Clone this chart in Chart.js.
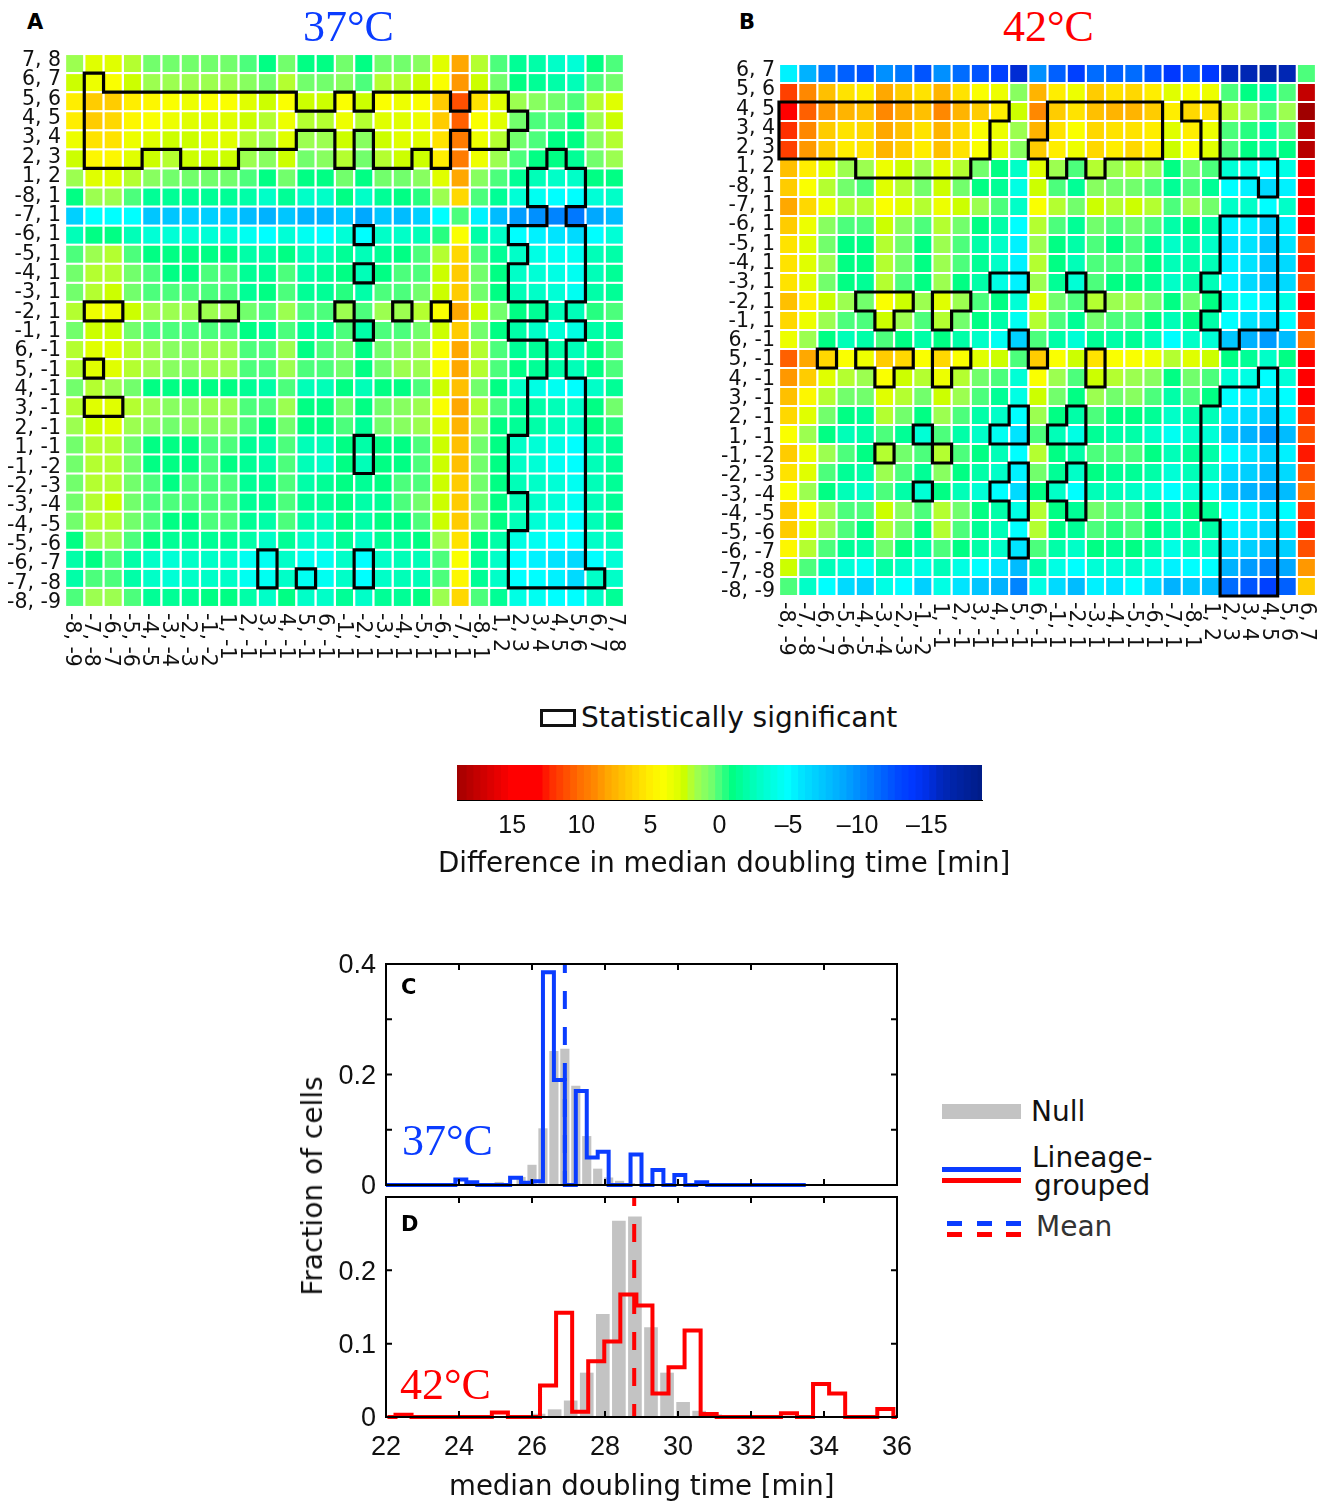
<!DOCTYPE html>
<html>
<head>
<meta charset="utf-8">
<script src="https://cdn.jsdelivr.net/npm/chart.js@4"></script>
<style>
    html, body { margin: 0; padding: 0; background: #fff; }
    #page { position: relative; width: 1329px; height: 1502px; overflow: hidden; font-family: "DejaVu Sans", sans-serif; color: #111; }
    canvas { position: absolute; }
    .t { position: absolute; white-space: nowrap; line-height: 1; transform: translateY(-50%); }
    .serif { font-family: "Liberation Serif", serif; font-size: 44px; }
    .panel { font-family: "DejaVu Sans", sans-serif; font-weight: bold; font-size: 21px; color: #000; }
    .lg { font-size: 28px; }
    .sw { position: absolute; }
</style>
</head>
<body>
<div id="page">
    <canvas id="heatA" width="634" height="633" style="left:0;top:44px"></canvas>
    <canvas id="heatB" width="612" height="612" style="left:714px;top:54px"></canvas>
    <canvas id="cbar" width="545" height="85" style="left:447px;top:765px"></canvas>
    <canvas id="histC" width="630" height="250" style="left:300px;top:950px"></canvas>
    <canvas id="histD" width="630" height="282" style="left:300px;top:1185px"></canvas>

    <div class="t panel" style="left:27px;top:22px">A</div>
    <div class="t panel" style="left:739px;top:22px">B</div>
    <div class="t serif" style="left:303px;top:27px;color:#0a3cff">37°C</div>
    <div class="t serif" style="left:1003px;top:27px;color:#ff0000">42°C</div>

    <div class="sw" style="left:540px;top:709px;width:30px;height:12px;border:3px solid #111"></div>
    <div class="t" style="left:581px;top:718px;font-size:28px">Statistically significant</div>
    <div class="t" style="left:438px;top:863px;font-size:27.7px">Difference in median doubling time [min]</div>

    <div class="t panel" style="left:401px;top:987px">C</div>
    <div class="t panel" style="left:401px;top:1224px">D</div>
    <div class="t serif" style="left:402px;top:1141px;color:#0a3cff">37°C</div>
    <div class="t serif" style="left:400px;top:1385px;color:#ff0000">42°C</div>
    <div class="t" style="left:313px;top:1186px;font-size:28px;transform:translate(-50%,-50%) rotate(-90deg)">Fraction of cells</div>
    <div class="t" style="left:449px;top:1486px;font-size:27.6px">median doubling time [min]</div>

    <div class="sw" style="left:942px;top:1104px;width:79px;height:15px;background:#c3c3c3"></div>
    <div class="t lg" style="left:1031px;top:1112px">Null</div>
    <div class="sw" style="left:942px;top:1167px;width:79px;height:5px;background:#0a3cff"></div>
    <div class="sw" style="left:942px;top:1178px;width:79px;height:5px;background:#ff0000"></div>
    <div class="t lg" style="left:1032px;top:1158px">Lineage-</div>
    <div class="t lg" style="left:1034px;top:1186px">grouped</div>
    <div class="sw" style="left:947px;top:1221px;width:15px;height:5px;background:#0a3cff"></div>
    <div class="sw" style="left:977px;top:1221px;width:15px;height:5px;background:#0a3cff"></div>
    <div class="sw" style="left:1006px;top:1221px;width:15px;height:5px;background:#0a3cff"></div>
    <div class="sw" style="left:947px;top:1232px;width:15px;height:5px;background:#ff0000"></div>
    <div class="sw" style="left:977px;top:1232px;width:15px;height:5px;background:#ff0000"></div>
    <div class="sw" style="left:1006px;top:1232px;width:15px;height:5px;background:#ff0000"></div>
    <div class="t lg" style="left:1036px;top:1227px;color:#333">Mean</div>
</div>

<script>
// Row/column labels, panel A reads top-down, its columns are the same list reversed
const rowLabelsA = ['7, 8','6, 7','5, 6','4, 5','3, 4','2, 3','1, 2','-8, 1','-7, 1','-6, 1','-5, 1','-4, 1','-3, 1','-2, 1','-1, 1','6, -1','5, -1','4, -1','3, -1','2, -1','1, -1','-1, -2','-2, -3','-3, -4','-4, -5','-5, -6','-6, -7','-7, -8','-8, -9'];
const colLabelsA = ['-8, -9','-7, -8','-6, -7','-5, -6','-4, -5','-3, -4','-2, -3','-1, -2','1, -1','2, -1','3, -1','4, -1','5, -1','6, -1','-1, 1','-2, 1','-3, 1','-4, 1','-5, 1','-6, 1','-7, 1','-8, 1','1, 2','2, 3','3, 4','4, 5','5, 6','6, 7','7, 8'];
const rowLabelsB = ['6, 7','5, 6','4, 5','3, 4','2, 3','1, 2','-8, 1','-7, 1','-6, 1','-5, 1','-4, 1','-3, 1','-2, 1','-1, 1','6, -1','5, -1','4, -1','3, -1','2, -1','1, -1','-1, -2','-2, -3','-3, -4','-4, -5','-5, -6','-6, -7','-7, -8','-8, -9'];
const colLabelsB = ['-8, -9','-7, -8','-6, -7','-5, -6','-4, -5','-3, -4','-2, -3','-1, -2','1, -1','2, -1','3, -1','4, -1','5, -1','6, -1','-1, 1','-2, 1','-3, 1','-4, 1','-5, 1','-6, 1','-7, 1','-8, 1','1, 2','2, 3','3, 4','4, 5','5, 6','6, 7'];

// Difference in median doubling time [min]
const cellsA = [
    [1.5,3,3,2,.5,.5,.5,.5,.5,0,-1,.5,-1,-1,.5,-1,.5,.5,1,3,8,2,0,-1.5,-2,-3,-3.5,-1,0],
    [2.5,3.5,4,2.5,1.5,1.5,1.5,1.5,1.5,1,.5,2,.5,.5,1,0,2,2,2.5,4,8.5,2.5,.5,-1,-1.5,-2,-2.5,0,.5],
    [5,6.5,6.5,5,4.5,4,3.5,4,4,3,2.5,4,2.5,2.5,4,2.5,4,3.5,4,6.5,11,5.5,3,1.5,1,.5,0,2,3],
    [5,6.5,6,4.5,4,3.5,3,3,3,2.5,2,3.5,2,2,3.5,2,3,3,3.5,6.5,10.5,4,3,.5,0,0,-1,1.5,2.5],
    [3.5,5.5,5.5,3.5,3,2.5,2.5,3,3,2,1.5,3,1.5,1.5,2.5,1,2.5,3,3,5.5,9.5,3.5,2,.5,0,-1,-1,1,2],
    [2.5,4.5,4.5,3,2.5,2,2.5,2.5,2.5,1.5,1,2.5,.5,1,2,.5,2,2.5,2.5,5,9.5,3.5,1.5,0,-1,-1,-1.5,.5,1.5],
    [1.5,3,3,2,1,.5,.5,.5,.5,0,-1,.5,-1,-1,.5,-1,.5,.5,1,3,8,1,0,-1.5,-2.5,-3,-3,-1,-1],
    [-1,1.5,1.5,0,-1.5,-1.5,-1.5,-1.5,-1.5,-2,-3,-1.5,-3,-3,-1,-3,-1.5,-1,-.5,1.5,6,0,-1.5,-3.5,-4.5,-5,-5,-3.5,-3],
    [-7,-5,-5,-5,-7.5,-7.5,-7,-7,-7,-8,-8.5,-7.5,-8.5,-8.5,-7.5,-9,-7.5,-8,-7,-5,0,-5.5,-8,-9.5,-10,-10.5,-11,-9,-8],
    [-2.5,-1,-1,-2.5,-3.5,-3.5,-3.5,-3.5,-3.5,-4.5,-5,-3.5,-4.5,-5,-3.5,-5,-3,-3,-2.5,-.5,4,-2,-3,-5,-5.5,-6,-6.5,-5,-3.5],
    [0,1.5,2,0,-1,-1,-1,-1,-1,-2,-2,-1,-2.5,-2.5,-1.5,-2.5,-1.5,-1,0,2,6,0,-1.5,-3,-4,-4.5,-4.5,-2.5,-2],
    [.5,2,2,.5,0,-1,-1,0,0,-1.5,-1.5,0,-2,-1.5,-1,-2.5,-1,0,0,2.5,6.5,.5,-1,-3,-3.5,-4,-4.5,-2.5,-1.5],
    [.5,2,2.5,.5,0,0,0,0,0,-1.5,-1,0,-1.5,-1.5,-.5,-2,0,0,.5,2.5,6.5,.5,-1,-2.5,-3,-3.5,-4.5,-2,-1.5],
    [2,3.5,3.5,2.5,1.5,1.5,1.5,1.5,1.5,.5,0,1.5,0,0,1.5,0,1.5,1.5,2,4,8,2.5,.5,-1,-1.5,-2.5,-2.5,-.5,0],
    [.5,2.5,2.5,.5,0,0,0,0,0,-1,-1.5,0,-1.5,-1.5,0,-2,0,0,.5,2.5,6.5,.5,-1,-2,-3,-3.5,-4,-2,-1.5],
    [2,3,3,2,1.5,1,1,1.5,1.5,0,0,1.5,-1,0,.5,-1,.5,1,1.5,4,8,2,0,-1.5,-1.5,-2,-2.5,-1,0],
    [2,3,3,2,1.5,1,1,1.5,1.5,0,0,1.5,0,0,.5,-1,.5,1.5,1.5,4,8,2,0,-1,-1.5,-2,-2.5,-1,0],
    [.5,2,1.5,.5,-1,-1,-1,-1,-1,-1.5,-2,0,-2.5,-2.5,-1,-2.5,-1,-1,0,2.5,7,.5,-1,-3,-4,-4.5,-5,-3,-1.5],
    [2,3,3,2,1.5,1,1,1.5,1.5,0,0,1.5,-1,-1,.5,-1,.5,1,1.5,4,8,2,0,-1.5,-2,-2.5,-3,-1,.5],
    [1.5,2.5,3,1.5,1,.5,1,1,1,0,-1,.5,-1,-1,0,-1.5,.5,1,1.5,3,7.5,1.5,-1,-1.5,-2,-2.5,-3,-1,-.5],
    [.5,2,2,.5,-1,-1,-1,0,0,-1.5,-2,0,-2.5,-2.5,-1,-2,-1,-1,0,2.5,7,.5,-1,-3,-3.5,-4,-5,-2.5,-1.5],
    [.5,2,2,.5,-1,-1,-1,0,-1,-1.5,-2,0,-2.5,-3,-1,-2.5,-1,-1,0,2.5,7,.5,-1,-3,-3.5,-4.5,-5,-2.5,-1.5],
    [.5,2,2,.5,0,-1,0,0,0,-1.5,-1.5,0,-2,-1.5,-1,-1.5,-1,0,0,2.5,6.5,.5,-1,-2.5,-3,-3.5,-4.5,-2.5,-1.5],
    [.5,2,2.5,.5,0,0,0,0,0,-1.5,-1.5,0,-1.5,-1.5,-1,-2,-1.5,0,.5,2.5,6.5,.5,-1,-2.5,-3,-3.5,-4.5,-2.5,-1.5],
    [.5,2,2,.5,0,-1,-1,0,0,-1.5,-2,0,-2,-2.5,-1,-2,-1,-1,0,2.5,6.5,.5,-1,-2.5,-3.5,-4,-5,-2.5,-1],
    [-1,1.5,1.5,0,-1,-1.5,-1.5,-1.5,-1.5,-2,-3,-1.5,-3,-3,-1.5,-3,-1.5,-1.5,-1,1.5,5.5,-1,-2,-4,-4.5,-5,-5,-3,-2.5],
    [-2,-1,0,-2,-3,-3.5,-3,-3,-3,-4.5,-4.5,-3,-4.5,-4.5,-3,-5,-3,-2.5,-2.5,0,4,-1.5,-3,-5,-5.5,-6,-6.5,-5,-3.5],
    [-2,0,0,-2,-3,-3.5,-3,-3,-3,-4.5,-4.5,-3,-4.5,-4.5,-3,-5,-3,-2.5,-2.5,0,4.5,-1.5,-3,-5,-5,-5.5,-6.5,-3,-3],
    [0,1.5,1.5,0,-1.5,-1.5,-1.5,-1,-1,-2,-3,-1,-3,-3,-1.5,-3,-1.5,-1.5,-1,1.5,6,0,-1.5,-4,-4.5,-5,-5,-3,-1.5]
];
const cellsB = [
    [-5.5,-8.5,-11,-12,-12.5,-10,-11,-12.5,-10,-11.5,-12.5,-13.5,-15.5,-10,-12,-13.5,-11.5,-12,-11.5,-12.5,-14,-12.5,-14,-16,-16.5,-17,-16.5,0],
    [11.5,9,7,5.5,5,8,6.5,5.5,7.5,5.5,4,3.5,1,7.5,5,3.5,6.5,5.5,6,5,3,4,3.5,0,-1,-2,0,17.5],
    [14,10.5,8.5,7.5,7,9,8,7,9,7.5,6.5,5,2.5,9,6.5,5.5,7,7.5,7.5,6.5,5,6,5.5,2,1.5,0,1.5,19],
    [12,9,6.5,5.5,6,8,7,5.5,7.5,6,4,3.5,1.5,7.5,5.5,4,6,5.5,5.5,5,3,5,3.5,0,-.5,-2,0,18],
    [11.5,8.5,6.5,5,5.5,7.5,6.5,5,7,5.5,4,3,1,6.5,5,3.5,6,5,6,5,2.5,4,3,0,-1,-2,-1,18],
    [7,5,3,1.5,1.5,3.5,2.5,1.5,3,2,.5,-1,-3,3,1.5,0,2,1.5,2,1.5,-1,.5,0,-3.5,-4,-5,-4,15],
    [6.5,4,2,.5,0,3,2,.5,2.5,.5,-1,-1.5,-4,2.5,0,-1.5,1,.5,.5,0,-1.5,0,-1.5,-5,-5.5,-6.5,-5.5,14.5],
    [8,6,3.5,2,2,4,3,2,3.5,2.5,1.5,0,-3,4,2,.5,2.5,2,2.5,2,0,1.5,.5,-3,-3,-5,-3,14],
    [6.5,3.5,1,0,0,2.5,1,0,2,.5,-1,-2,-5,2,0,-1.5,.5,0,.5,0,-2,-1,-2,-5.5,-5.5,-7,-5.5,14],
    [5.5,3,.5,-1,-1,2,.5,-1,1.5,0,-2,-3,-5.5,1.5,-1,-2,0,-1,0,-1.5,-3,-2,-3,-6,-6,-7.5,-6,11.5],
    [5.5,3,1.5,-1,-1,2,.5,-1,1.5,0,-1.5,-3,-5.5,2,-1,-2.5,0,0,0,-1,-2.5,-2,-2.5,-5.5,-6,-7.5,-6.5,12.5],
    [5.5,3,.5,-1,-1.5,2,0,-1,1.5,-1,-2,-4,-5.5,1.5,-1.5,-3.5,0,-1,-1,-1.5,-3,-2,-2.5,-5.5,-6.5,-7.5,-6.5,11.5],
    [7,5,2.5,1.5,.5,4,2.5,1.5,3,1.5,0,-1,-3.5,3,.5,0,2,1.5,1.5,.5,-1,.5,-1,-4,-5,-5.5,-4,14],
    [6,3.5,1.5,0,0,2.5,1.5,0,2,.5,-1,-2,-4.5,2,0,-1.5,.5,0,0,-1,-2.5,-1,-2,-5,-6,-6.5,-5,12],
    [3.5,1.5,-1,-2.5,-2,0,-1,-2,-1,-2,-3,-4.5,-7,0,-2,-3.5,-1.5,-2,-1.5,-2.5,-5,-3,-3.5,-7.5,-8.5,-9.5,-8,10],
    [10.5,8,6,4,3.5,6.5,6,4,6,4,3,2.5,0,6.5,4,2.5,5.5,4,4,3.5,2,3,2.5,-1,-1.5,-3,-1,14],
    [8.5,6.5,3,2,1.5,4,2.5,2,3.5,2,.5,0,-3.5,4,1.5,0,2.5,2,1.5,1,-1,.5,0,-3.5,-4,-5,-3.5,14],
    [7,4.5,2,.5,.5,3,2,.5,2.5,1.5,0,-1.5,-4,2.5,.5,-1,1.5,.5,1,0,-2,0,-1,-5,-5.5,-6,-5,14],
    [6,3,.5,-1,-1.5,2,.5,-1,1.5,0,-2,-3,-5,1.5,-1,-2,0,-1,-1,-1.5,-3,-2,-2.5,-6,-6.5,-7.5,-5.5,12],
    [4,1.5,-1,-2.5,-2,0,-1.5,-3.5,0,-2,-3,-4.5,-6,0,-2.5,-4,-1.5,-2,-2,-3,-4.5,-3,-3.5,-7.5,-8.5,-9.5,-8,11],
    [6.5,3.5,1.5,0,-1,2,.5,0,2,0,-1,-2.5,-5,2,-1,-2,0,0,0,-1,-2.5,-1.5,-2,-5,-6,-7,-5.5,12.5],
    [5.5,3,0,-1.5,-2,1.5,0,-1.5,1,-1,-2,-3,-5.5,.5,-1.5,-3,-1,-1.5,-1.5,-2,-3.5,-2.5,-3,-6.5,-7,-8,-6.5,11],
    [4,1.5,-1,-2.5,-3,0,-2,-3.5,-1,-2.5,-3.5,-5,-6.5,-1,-3,-5,-2.5,-2.5,-3,-3.5,-5,-3.5,-4.5,-7.5,-8.5,-9,-8,10],
    [6.5,4,1.5,0,0,2.5,1,0,2,.5,-1,-2,-4,2,-1,-1.5,.5,0,0,-1,-2.5,-1,-1.5,-5,-5.5,-6.5,-5,12],
    [6.5,3,1.5,0,-1,2,.5,-1,2,0,-1.5,-2.5,-5,2,-1,-1.5,0,-.5,0,-1,-2,-1.5,-2,-5.5,-6,-7,-6,12.5],
    [4.5,2,0,-1.5,-2,.5,-1,-2,0,-1,-2,-3,-6,0,-2,-3,-1,-1.5,-1,-2,-4,-2.5,-3,-6.5,-7,-8,-7,11],
    [2.5,0,-2.5,-3.5,-4.5,-2,-3,-4,-2.5,-4,-5,-6,-8,-2,-4,-5,-3.5,-3.5,-3,-4,-5.5,-5,-5,-8.5,-9.5,-10.5,-9,8.5],
    [0,-3,-5,-6.5,-7,-4,-5,-7,-4,-6,-7.5,-8.5,-10.5,-4,-6.5,-8,-5.5,-6,-5,-6.5,-8.5,-7.5,-8,-11.5,-12.5,-13.5,-12,6.5]
];

// Statistically significant cells (# = inside an outline)
const sigA = [
    '.............................',
    '.#...........................',
    '.###########..#.####.##......',
    '.#######################.....',
    '.###########..#.####.##......',
    '.###..###.....#.##.#.....#...',
    '........................###..',
    '........................###..',
    '.........................#...',
    '...............#.......####..',
    '........................###..',
    '...............#.......####..',
    '.......................####..',
    '.##....##.....#..#.#.....#...',
    '...............#.......####..',
    '.........................#...',
    '.#.......................#...',
    '........................###..',
    '.##.....................###..',
    '........................###..',
    '...............#.......####..',
    '...............#.......####..',
    '.......................####..',
    '........................###..',
    '........................###..',
    '.......................####..',
    '..........#....#.......####..',
    '..........#.#..#.......#####.',
    '.............................'
];
const sigB = [
    '............................',
    '............................',
    '############..######.##.....',
    '###########...######..#.....',
    '###########..#######..#.....',
    '....######....#.#......###..',
    '.........................#..',
    '............................',
    '.......................###..',
    '.......................###..',
    '.......................###..',
    '...........##..#......####..',
    '....###.##......#......###..',
    '.....#..#.............####..',
    '............#..........#....',
    '..#.###.##...#..#...........',
    '.....#..#.......#........#..',
    '.......................###..',
    '............#..#......####..',
    '.......#...##.##......####..',
    '.....#..#.............####..',
    '............#..#......####..',
    '.......#...##.##......####..',
    '............#..#......####..',
    '.......................###..',
    '............#..........###..',
    '.......................###..',
    '.......................###..'
];

// Colour scale
const scaleValues = [19,17,15,13,12,11,10,9,8,7,6,5,4,3,2.5,2,1.5,1,.5,0,-1,-2,-3,-4,-5,-6,-7,-8,-9,-10,-11,-12,-13,-14,-15,-16,-17,-19];
const scaleColors = ['#a00000','#d00000','#ff0000','#ff0000','#ff3000','#ff5000','#ff7000','#ff8800','#ffa800','#ffc000','#ffd800','#ffee00','#faff00','#e0ff00','#ccff00','#b4ff30','#9cff50','#88ff60','#72ff6c','#4cff7c','#00ff84','#00ffa8','#00ffc8','#00ffe4','#00ffff','#00e4ff','#00d0ff','#00bcff','#00a8ff','#0090ff','#0078ff','#0060ff','#0048ff','#0038ff','#0030e8','#0028c0','#0024a8','#001c88'];
const barLevels = [19,18.5,18,17.5,17,16.5,16,15.5,15,14.5,14,13.5,13,12.5,12,11.5,11,10.5,10,9.5,9,8.5,8,7.5,7,6.5,6,5.5,5,4.5,4,3.5,3,2.5,2,1.5,1,.5,0,-.5,-1,-1.5,-2,-2.5,-3,-3.5,-4,-4.5,-5,-5.5,-6,-6.5,-7,-7.5,-8,-8.5,-9,-9.5,-10,-10.5,-11,-11.5,-12,-12.5,-13,-13.5,-14,-14.5,-15,-15.5,-16,-16.5,-17,-17.5,-18,-18.5,-19];
const barTicks = [15,10,5,0,-5,-10,-15];

// Panel C, 37 degrees
const nullBinsC = [25.1,25.7,26.0,26.3,26.6,26.9,27.2,27.5,27.8,28.1,28.4,28.7];
const nullValsC = [.005,.014,.036,.102,.242,.246,.179,.088,.029,.013,.007,.003];
const lineBinsC = [22.0,22.25,22.55,22.85,23.15,23.45,23.75,24.05,24.35,24.65,24.95,25.25,25.55,25.85,26.15,26.45,26.75,27.05,27.35,27.65,27.95,28.25,28.55,28.85,29.15,29.45,29.75,30.05,30.35,30.65,30.95,31.25,31.55,31.85,32.15,32.45,32.75,33.05,33.35,33.5];
const lineValsC = [0,0,0,0,0,0,0,.01,.005,0,0,0,.013,.004,.007,.385,.19,0,.17,.05,.06,0,0,.055,0,.027,0,.018,0,.005,0,0,0,0,0,0,0,0,0,0];
const meanC = 26.9;

// Panel D, 42 degrees
const nullBinsD = [26.18,26.62,27.06,27.5,27.94,28.38,28.82,29.26,29.7,30.14,30.58,31.02];
const nullValsD = [.004,.01,.022,.06,.14,.267,.273,.122,.06,.02,.008,.003];
const lineBinsD = [22.04,22.48,22.92,23.36,23.8,24.24,24.68,25.12,25.56,26.0,26.44,26.88,27.32,27.76,28.2,28.64,29.08,29.52,29.96,30.4,30.84,31.28,31.72,32.16,32.6,33.04,33.48,33.92,34.36,34.8,35.24,35.68,36.12];
const lineValsD = [0,.003,0,0,0,0,0,.006,0,0,.043,.142,.007,.076,.103,.167,.152,.032,.068,.118,.004,0,0,0,0,.005,0,.045,.032,0,0,.011,0];
const meanD = 28.8;

const xTicks = [22,24,26,28,30,32,34,36];
const BLUE = '#0a3cff';
const RED = '#ff0000';
const GREY = '#c3c3c3';

function hexToRgb(hex) {
    return [1, 3, 5].map(i => parseInt(hex.slice(i, i + 2), 16));
}

function colorFor(v) {
    for (let i = 0; i < scaleValues.length - 1; i++) {
        const hi = scaleValues[i], lo = scaleValues[i + 1];
        if (v <= hi && v >= lo) {
            const f = (hi - v) / (hi - lo);
            const a = hexToRgb(scaleColors[i]), b = hexToRgb(scaleColors[i + 1]);
            const c = a.map((ch, k) => Math.round(ch + (b[k] - ch) * f));
            return `rgb(${c[0]},${c[1]},${c[2]})`;
        }
    }
    return scaleColors[0];
}

// Scale padding would otherwise push the chart area in by half a label
function noLabelPadding(s) {
    s.paddingTop = 0;
    s.paddingBottom = 0;
}

// Draws the black outlines round significant cells and both sets of labels.
// The labels in the figure are spaced slightly wider than the cells, hence the stretch values.
function heatPlugin(rowLabels, colLabels, sig, stretch) {
    return {
        id: 'heatExtras',
        afterDatasetsDraw(chart) {
            const { ctx, scales: { x, y } } = chart;
            ctx.save();
            ctx.strokeStyle = '#000';
            ctx.lineWidth = 3.2;
            ctx.lineCap = 'square';
            ctx.beginPath();
            const inMask = (r, c) => sig[r] && sig[r][c] === '#';
            sig.forEach((row, r) => {
                [...row].forEach((mark, c) => {
                    if (mark !== '#') return;
                    const l = x.getPixelForValue(c - 0.5), rt = x.getPixelForValue(c + 0.5);
                    const t = y.getPixelForValue(r - 0.5), b = y.getPixelForValue(r + 0.5);
                    if (!inMask(r - 1, c)) { ctx.moveTo(l, t); ctx.lineTo(rt, t); }
                    if (!inMask(r + 1, c)) { ctx.moveTo(l, b); ctx.lineTo(rt, b); }
                    if (!inMask(r, c - 1)) { ctx.moveTo(l, t); ctx.lineTo(l, b); }
                    if (!inMask(r, c + 1)) { ctx.moveTo(rt, t); ctx.lineTo(rt, b); }
                });
            });
            ctx.stroke();
            ctx.restore();

            ctx.save();
            ctx.fillStyle = '#111';
            ctx.font = '20.5px "DejaVu Sans"';
            ctx.textBaseline = 'middle';
            ctx.textAlign = 'left';
            colLabels.forEach((label, i) => {
                ctx.save();
                ctx.translate(x.getPixelForValue(i * stretch.x - 0.19), chart.chartArea.bottom + 6);
                ctx.rotate(Math.PI / 2);
                ctx.fillText(label, 0, 0);
                ctx.restore();
            });
            ctx.textAlign = 'right';
            rowLabels.forEach((label, i) => {
                ctx.fillText(label, chart.chartArea.left - 4, y.getPixelForValue(i * stretch.y - 0.15));
            });
            ctx.restore();
        }
    };
}

function drawHeat(id, rowLabels, colLabels, cells, sig, stretch) {
    const points = [];
    const colors = [];
    cells.forEach((row, r) => row.forEach((v, c) => {
        points.push({ x: colLabels[c], y: rowLabels[r] });
        colors.push(colorFor(v));
    }));

    new Chart(document.getElementById(id), {
        type: 'scatter',
        data: {
            xLabels: colLabels,
            yLabels: rowLabels,
            datasets: [{
                data: points,
                backgroundColor: colors,
                pointStyle: 'rect',
                pointRadius: 12,
                pointBorderWidth: 0,
                borderWidth: 0
            }]
        },
        options: {
            responsive: false,
            animation: false,
            events: [],
            layout: { autoPadding: false, padding: { top: 10, right: 10, bottom: 70 } },
            plugins: { legend: { display: false }, tooltip: { enabled: false } },
            scales: {
                x: {
                    type: 'category',
                    offset: true,
                    grid: { display: false, drawTicks: false },
                    border: { display: false },
                    ticks: { display: false },
                    afterFit: s => { s.height = 0; }
                },
                y: {
                    type: 'category',
                    offset: true,
                    grid: { display: false, drawTicks: false },
                    border: { display: false },
                    ticks: { display: false },
                    afterFit: s => { s.width = 65; noLabelPadding(s); }
                }
            }
        },
        plugins: [heatPlugin(rowLabels, colLabels, sig, stretch)]
    });
}

// Frame with inward ticks on all four sides
const framePlugin = {
    id: 'frame',
    afterDatasetsDraw(chart) {
        const { ctx, chartArea: a, scales: { x, y } } = chart;
        ctx.save();
        ctx.strokeStyle = '#000';
        ctx.lineWidth = 2;
        ctx.strokeRect(a.left, a.top, a.right - a.left, a.bottom - a.top);
        ctx.beginPath();
        x.ticks.forEach(t => {
            const px = x.getPixelForValue(t.value);
            ctx.moveTo(px, a.bottom); ctx.lineTo(px, a.bottom - 6);
            ctx.moveTo(px, a.top); ctx.lineTo(px, a.top + 6);
        });
        y.ticks.forEach(t => {
            const py = y.getPixelForValue(t.value);
            ctx.moveTo(a.left, py); ctx.lineTo(a.left + 6, py);
            ctx.moveTo(a.right, py); ctx.lineTo(a.right - 6, py);
        });
        ctx.stroke();
        ctx.restore();
    }
};

function drawHist(id, cfg) {
    new Chart(document.getElementById(id), {
        data: {
            datasets: [
                {
                    type: 'line',
                    data: [{ x: cfg.mean, y: cfg.yMax }, { x: cfg.mean, y: 0 }],
                    borderColor: cfg.color,
                    borderWidth: 4,
                    borderDash: [18, 18],
                    borderDashOffset: 9,
                    pointRadius: 0,
                    clip: 3,
                    order: 1
                },
                {
                    type: 'line',
                    data: cfg.lineBins.map((b, i) => ({ x: b, y: cfg.lineVals[i] })),
                    borderColor: cfg.color,
                    borderWidth: 4,
                    stepped: 'middle',
                    pointRadius: 0,
                    clip: { left: 0, right: 0, top: 3, bottom: 3 },
                    order: 2
                },
                {
                    type: 'bar',
                    data: cfg.nullBins.map((b, i) => ({ x: b, y: cfg.nullVals[i] })),
                    backgroundColor: GREY,
                    barThickness: cfg.barWidth,
                    order: 3
                }
            ]
        },
        options: {
            responsive: false,
            animation: false,
            events: [],
            layout: { autoPadding: false, padding: { top: cfg.padTop, right: 33 } },
            plugins: { legend: { display: false }, tooltip: { enabled: false } },
            scales: {
                x: {
                    type: 'linear',
                    offset: false,
                    min: 22,
                    max: 36,
                    grid: { display: false, drawTicks: false },
                    border: { display: false },
                    afterBuildTicks: s => { s.ticks = xTicks.map(v => ({ value: v })); },
                    ticks: { display: cfg.showX, autoSkip: false, maxRotation: 0, padding: 14, color: '#111', font: { family: '"Liberation Sans"', size: 27 } },
                    afterFit: s => { s.height = cfg.xHeight; }
                },
                y: {
                    min: 0,
                    max: cfg.yMax,
                    grid: { display: false, drawTicks: false },
                    border: { display: false },
                    afterBuildTicks: s => { s.ticks = cfg.yTicks.map(v => ({ value: v })); },
                    ticks: {
                        autoSkip: false,
                        padding: 10,
                        labelOffset: 2,
                        color: '#111',
                        font: { family: '"Liberation Sans"', size: 27 },
                        callback: v => cfg.yLabels.includes(v) ? String(v) : ''
                    },
                    afterFit: s => { s.width = 86; noLabelPadding(s); }
                }
            }
        },
        plugins: [framePlugin]
    });
}

function drawColorBar() {
    new Chart(document.getElementById('cbar'), {
        type: 'bar',
        data: {
            datasets: [{
                data: barLevels.map(v => ({ x: v, y: 1 })),
                backgroundColor: barLevels.map(colorFor),
                barThickness: 8,
                borderWidth: 0
            }]
        },
        options: {
            responsive: false,
            animation: false,
            events: [],
            layout: { autoPadding: false, padding: { left: 10, right: 10 } },
            plugins: { legend: { display: false }, tooltip: { enabled: false } },
            scales: {
                x: {
                    type: 'linear',
                    offset: false,
                    reverse: true,
                    min: -19,
                    max: 19,
                    grid: { display: false, drawTicks: false },
                    border: { display: true, color: '#000', width: 1 },
                    afterBuildTicks: s => { s.ticks = barTicks.map(v => ({ value: v })); },
                    ticks: {
                        autoSkip: false,
                        maxRotation: 0,
                        padding: 11,
                        color: '#111',
                        font: { family: '"Liberation Sans"', size: 25 },
                        callback: v => v < 0 ? '\u2013' + Math.abs(v) : String(v)
                    },
                    afterFit: s => { s.height = 50; }
                },
                y: { display: false, min: 0, max: 1 }
            }
        }
    });
}

drawHeat('heatA', rowLabelsA, colLabelsA, cellsA, sigA, { x: 1.0093, y: 1.0152 });
drawHeat('heatB', rowLabelsB, colLabelsB, cellsB, sigB, { x: 1.0078, y: 1.0158 });
drawColorBar();
drawHist('histC', {
    nullBins: nullBinsC, nullVals: nullValsC, lineBins: lineBinsC, lineVals: lineValsC, mean: meanC,
    color: BLUE, barWidth: 8.5, yMax: 0.4, yTicks: [0, .1, .2, .3, .4], yLabels: [0, .2, .4],
    padTop: 14, showX: false, xHeight: 15
});
drawHist('histD', {
    nullBins: nullBinsD, nullVals: nullValsD, lineBins: lineBinsD, lineVals: lineValsD, mean: meanD,
    color: RED, barWidth: 13, yMax: 0.3, yTicks: [0, .1, .2, .3], yLabels: [0, .1, .2],
    padTop: 12, showX: true, xHeight: 50
});
</script>
</body>
</html>
